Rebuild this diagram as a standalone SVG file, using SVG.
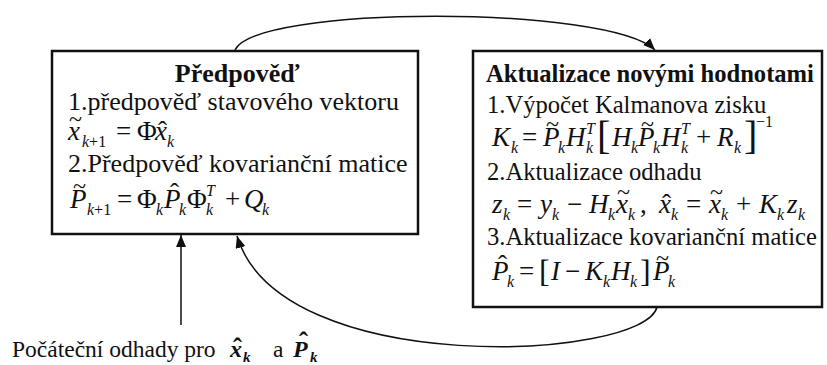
<svg xmlns="http://www.w3.org/2000/svg" width="827" height="365" viewBox="0 0 827 365">
<defs>
<style>
text{font-family:"Liberation Serif","Times New Roman",serif;fill:#111}
.t{font-size:24.6px}
.tL{font-size:26px}
.b{font-weight:bold}
.i{font-style:italic;font-size:27px}
.u{font-size:27px}
.s{font-style:italic;font-size:16px}
.su{font-size:16px}
.tl{font-size:24px}
.ht{font-size:27px}
.box{fill:#fff;stroke:#111;stroke-width:2.5}
.con{fill:none;stroke:#111;stroke-width:1.5}
.bi{font-weight:bold;font-style:italic;font-size:24px}
.bs{font-weight:bold;font-style:italic;font-size:15px}
.br{font-size:40px}
.br2{font-size:32px}
.bt{font-size:23.5px}
</style>
<marker id="ah" viewBox="0 0 12 10" refX="12" refY="5" markerWidth="12" markerHeight="10" markerUnits="userSpaceOnUse" orient="auto">
<path d="M0,0 L12,5 L0,10 z" fill="#111"/>
</marker>
</defs>
<rect width="827" height="365" fill="#fff"/>

<g id="connectors">
<path class="con" d="M235,50 C255,5 610,5 655,50" marker-end="url(#ah)"/>
<path class="con" d="M657,307 C645,360 280,380 237,236" marker-end="url(#ah)"/>
<path class="con" d="M181,325 L181,235" marker-end="url(#ah)"/>
</g>

<g id="predpoved">
<rect class="box" x="52" y="51" width="366" height="183"/>
<text class="tL b" x="237" y="82" text-anchor="middle">Předpověď</text>
<text class="tL" x="68" y="110">1.předpověď stavového vektoru</text>
<text class="i" x="68" y="140">x</text>
<text class="tl" x="69" y="127">~</text>
<text x="82" y="147"><tspan class="s">k</tspan><tspan class="su">+1</tspan></text>
<text class="u" x="116" y="140">=</text>
<text class="u" x="137" y="140">Φ</text>
<text class="i" x="155" y="140">x</text>
<text class="ht" x="158" y="140">ˆ</text>
<text class="s" x="167" y="147">k</text>
<text class="tL" x="68" y="172">2.Předpověď kovarianční matice</text>
<text class="i" x="70" y="208">P</text>
<text class="tl" x="73" y="194">~</text>
<text x="87" y="215"><tspan class="s">k</tspan><tspan class="su">+1</tspan></text>
<text class="u" x="117" y="208">=</text>
<text class="u" x="137" y="208">Φ</text>
<text class="s" x="156" y="215">k</text>
<text class="i" x="164" y="208">P</text>
<text class="ht" x="170" y="202">ˆ</text>
<text class="s" x="179" y="215">k</text>
<text class="u" x="187" y="208">Φ</text>
<text class="s" x="206" y="196">T</text>
<text class="s" x="206" y="215">k</text>
<text class="u" x="225" y="208">+</text>
<text class="i" x="244" y="208">Q</text>
<text class="s" x="262" y="215">k</text>
</g>

<g id="aktualizace">
<rect class="box" x="473" y="51" width="349" height="256"/>
<text class="t b" x="486" y="82">Aktualizace novými hodnotami</text>
<text class="t" x="487" y="113">1.Výpočet Kalmanova zisku</text>
<text class="i" x="492" y="146">K</text>
<text class="s" x="511" y="153">k</text>
<text class="u" x="522" y="146">=</text>
<text class="i" x="543" y="146">P</text>
<text class="tl" x="546" y="132">~</text>
<text class="s" x="558" y="153">k</text>
<text class="i" x="566" y="146">H</text>
<text class="s" x="586" y="134">T</text>
<text class="s" x="586" y="153">k</text>
<text class="u br" x="597" y="149">[</text>
<text class="i" x="612" y="146">H</text>
<text class="s" x="631" y="153">k</text>
<text class="i" x="638" y="146">P</text>
<text class="tl" x="641" y="132">~</text>
<text class="s" x="653" y="153">k</text>
<text class="i" x="661" y="146">H</text>
<text class="s" x="681" y="134">T</text>
<text class="s" x="681" y="153">k</text>
<text class="u" x="696" y="146">+</text>
<text class="i" x="717" y="146">R</text>
<text class="s" x="734" y="153">k</text>
<text class="u br" x="744" y="149">]</text>
<text class="su" x="756" y="127">−1</text>
<text class="t" x="487" y="180">2.Aktualizace odhadu</text>
<text class="i" x="492" y="213">z</text>
<text class="s" x="503" y="220">k</text>
<text class="u" x="517" y="213">=</text>
<text class="i" x="540" y="213">y</text>
<text class="s" x="552" y="220">k</text>
<text class="u" x="567" y="213">−</text>
<text class="i" x="589" y="213">H</text>
<text class="s" x="608" y="220">k</text>
<text class="i" x="616" y="213">x</text>
<text class="tl" x="617" y="200">~</text>
<text class="s" x="628" y="220">k</text>
<text class="u" x="640" y="213">,</text>
<text class="i" x="659" y="213">x</text>
<text class="ht" x="662" y="213">ˆ</text>
<text class="s" x="671" y="220">k</text>
<text class="u" x="686" y="213">=</text>
<text class="i" x="709" y="213">x</text>
<text class="tl" x="710" y="200">~</text>
<text class="s" x="721" y="220">k</text>
<text class="u" x="736" y="213">+</text>
<text class="i" x="759" y="213">K</text>
<text class="s" x="777" y="220">k</text>
<text class="i" x="787" y="213">z</text>
<text class="s" x="798" y="220">k</text>
<text class="t" x="487" y="245">3.Aktualizace kovarianční matice</text>
<text class="i" x="492" y="280">P</text>
<text class="ht" x="498" y="274">ˆ</text>
<text class="s" x="507" y="287">k</text>
<text class="u" x="519" y="280">=</text>
<text class="u br2" x="539" y="282">[</text>
<text class="i" x="551" y="280">I</text>
<text class="u" x="565" y="280">−</text>
<text class="i" x="585" y="280">K</text>
<text class="s" x="603" y="287">k</text>
<text class="i" x="611" y="280">H</text>
<text class="s" x="630" y="287">k</text>
<text class="u br2" x="640" y="282">]</text>
<text class="i" x="653" y="280">P</text>
<text class="tl" x="656" y="266">~</text>
<text class="s" x="668" y="287">k</text>
</g>

<g id="pocatecni">
<text class="bt" x="12" y="357">Počáteční odhady pro</text>
<text class="bi" x="230" y="357">x</text>
<text class="ht b" x="233" y="357">ˆ</text>
<text class="bs" x="243" y="362">k</text>
<text class="bt" x="273" y="357">a</text>
<text class="bi" x="293" y="357">P</text>
<text class="ht b" x="299" y="351">ˆ</text>
<text class="bs" x="310" y="362">k</text>
</g>
</svg>
